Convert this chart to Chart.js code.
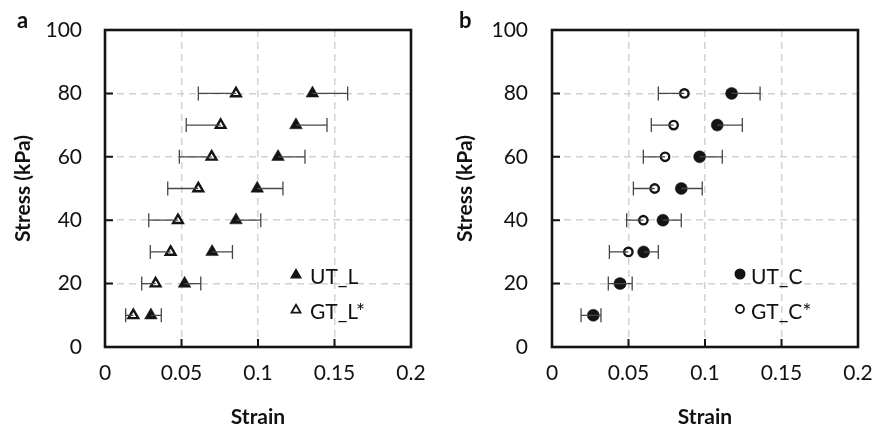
<!DOCTYPE html>
<html>
<head>
<meta charset="utf-8">
<script src="https://cdn.jsdelivr.net/npm/chart.js@4/dist/chart.umd.min.js"></script>
<style>
  body { margin: 0; background: #fff; }
  #wrap { position: relative; width: 873px; height: 430px; overflow: hidden; }
  canvas { position: absolute; top: 0; }
  #cA { left: 0; }
  #cB { left: 437px; }
  .tag { position: absolute; font: bold 22px Lato, sans-serif; color: #111; }
</style>
</head>
<body>
<div id="wrap">
  <canvas id="cA" width="436" height="430"></canvas>
  <canvas id="cB" width="436" height="430"></canvas>
  <div class="tag" style="left:17px; top:6px;">a</div>
  <div class="tag" style="left:459px; top:6px;">b</div>
</div>
<script>
// stress levels (kPa), shared by both panels
const stress = [10, 20, 30, 40, 50, 60, 70, 80];

// panel a: strain, error bars drawn to one side
const utL = [0.030, 0.052, 0.070, 0.0856, 0.0995, 0.1131, 0.1248, 0.1356];
const utLErr = [0.0068, 0.0106, 0.0133, 0.0162, 0.0168, 0.0176, 0.0203, 0.023];
const gtL = [0.0185, 0.0331, 0.0429, 0.0477, 0.061, 0.0697, 0.0756, 0.0856];
const gtLErr = [0.005, 0.0091, 0.0133, 0.0191, 0.020, 0.0211, 0.0225, 0.0246];

// panel b
const utC = [0.027, 0.0444, 0.0599, 0.0725, 0.0845, 0.0965, 0.108, 0.1174];
const utCErr = [0.005, 0.008, 0.0096, 0.012, 0.0137, 0.0148, 0.0164, 0.0186];
const gtC = [0.027, 0.045, 0.0499, 0.0597, 0.0671, 0.0739, 0.0795, 0.0865];
const gtCErr = [0.008, 0.0082, 0.0124, 0.0109, 0.0139, 0.0142, 0.0146, 0.017];

const xTickLabels = ["0", "0.05", "0.1", "0.15", "0.2"];
const yTickLabels = ["0", "20", "40", "60", "80", "100"];

const INK = "#141414";
const TXT = "#111";
const FONT = "Lato, sans-serif";

function pts(xs) {
  return stress.map((s, i) => ({ x: xs[i], y: s }));
}

// error bars, ticks inside, box and legend
const extras = {
  id: "extras",
  afterDatasetsDraw(chart) {
    const { ctx } = chart;
    const xs = chart.scales.x, ys = chart.scales.y;
    ctx.save();
    ctx.strokeStyle = "#474747";
    ctx.lineWidth = 1.3;
    chart.data.datasets.forEach(ds => {
      ds.data.forEach((p, i) => {
        const e = ds.err[i] * ds.side;
        const x0 = xs.getPixelForValue(p.x);
        const x1 = xs.getPixelForValue(p.x + e);
        const y = ys.getPixelForValue(p.y);
        ctx.beginPath();
        ctx.moveTo(x0, y); ctx.lineTo(x1, y);
        ctx.moveTo(x1, y - 7); ctx.lineTo(x1, y + 7);
        ctx.stroke();
      });
    });
    ctx.restore();
  },
  afterDraw(chart) {
    const { ctx, chartArea: a } = chart;
    const xs = chart.scales.x, ys = chart.scales.y;
    ctx.save();
    ctx.strokeStyle = INK;
    ctx.lineWidth = 2;
    ctx.beginPath();
    xs.ticks.forEach(t => {
      const x = xs.getPixelForValue(t.value);
      ctx.moveTo(x, a.bottom); ctx.lineTo(x, a.bottom - 8);
    });
    ys.ticks.forEach(t => {
      const y = ys.getPixelForValue(t.value);
      ctx.moveTo(a.left, y); ctx.lineTo(a.left + 8, y);
    });
    ctx.stroke();
    ctx.lineWidth = 2.6;
    ctx.strokeRect(a.left, a.top, a.right - a.left, a.bottom - a.top);

    // legend
    const lg = chart.options.legendPos;
    const lx = a.right - lg.dx;
    ctx.font = "21px " + FONT;
    ctx.textBaseline = "middle";
    chart.data.datasets.forEach((ds, i) => {
      const y = a.bottom - 72 + i * 35;
      ctx.beginPath();
      if (ds.pointStyle === "triangle") {
        const r = ds.filled ? 7 : 5.2;
        ctx.moveTo(lx, y - r);
        ctx.lineTo(lx + r * 0.866, y + r * 0.5);
        ctx.lineTo(lx - r * 0.866, y + r * 0.5);
        ctx.closePath();
      } else {
        ctx.arc(lx, y - 1, ds.filled ? 5.5 : 4, 0, Math.PI * 2);
      }
      if (ds.filled) {
        ctx.fillStyle = INK; ctx.fill();
      } else {
        ctx.fillStyle = "#fff"; ctx.fill();
        ctx.lineWidth = 1.8; ctx.strokeStyle = INK; ctx.stroke();
      }
      ctx.fillStyle = TXT;
      ctx.fillText(ds.label, lx + lg.gap, y + 2);
    });
    ctx.restore();
  }
};

function noPad(s) {
  s.paddingTop = 0; s.paddingBottom = 0; s.paddingLeft = 0; s.paddingRight = 0;
}

function makeChart(id, sets, yAxisW, yTitlePad, yTickPad, rightPad, legendPos) {
  const hideEdge = c => (c.index === 0 || c.index === c.scale.ticks.length - 1) ? "rgba(0,0,0,0)" : "#d2d2d2";
  return new Chart(document.getElementById(id), {
    type: "scatter",
    data: {
      datasets: sets.map(s => ({
        label: s.label,
        data: pts(s.xs),
        err: s.err,
        side: s.side,
        filled: s.filled,
        pointStyle: s.style,
        pointRadius: s.style === "triangle" ? (s.filled ? 7.3 : 5.6) : (s.filled ? 6 : 4.2),
        pointBackgroundColor: s.filled ? INK : "#fff",
        pointBorderColor: INK,
        pointBorderWidth: s.filled ? 0.5 : 2.4,
        showLine: false
      }))
    },
    options: {
      responsive: false,
      animation: false,
      legendPos: legendPos,
      layout: { padding: { top: 30, right: rightPad, left: 0, bottom: 0 } },
      plugins: { legend: { display: false }, tooltip: { enabled: false } },
      scales: {
        x: {
          min: 0, max: 0.2,
          afterFit: s => { s.height = 83; noPad(s); },
          ticks: {
            stepSize: 0.05,
            padding: 14,
            color: TXT,
            font: { family: FONT, size: 21 },
            callback: (v, i) => xTickLabels[i]
          },
          grid: { color: hideEdge, lineWidth: 1.5, drawTicks: false },
          border: { display: false, dash: [7, 5] },
          title: {
            display: true, text: "Strain", color: TXT,
            font: { family: FONT, size: 21, weight: "bold" },
            padding: { top: 0, bottom: 0 }
          }
        },
        y: {
          min: 0, max: 100,
          afterFit: s => { s.width = yAxisW; noPad(s); },
          ticks: {
            stepSize: 20,
            padding: yTickPad,
            color: TXT,
            font: { family: FONT, size: 21 },
            callback: (v, i) => yTickLabels[i]
          },
          grid: { color: hideEdge, lineWidth: 1.5, drawTicks: false },
          border: { display: false, dash: [7, 5] },
          title: {
            display: true, text: "Stress (kPa)", color: TXT,
            font: { family: FONT, size: 21, weight: "bold" },
            padding: { top: yTitlePad, bottom: 0 }
          }
        }
      }
    },
    plugins: [extras]
  });
}

makeChart("cA", [
  { label: "UT_L", xs: utL, err: utLErr, side: 1, filled: true, style: "triangle" },
  { label: "GT_L*", xs: gtL, err: gtLErr, side: -1, filled: false, style: "triangle" }
], 105, 11, 23, 25, { dx: 115, gap: 14 });

makeChart("cB", [
  { label: "UT_C", xs: utC, err: utCErr, side: 1, filled: true, style: "circle" },
  { label: "GT_C*", xs: gtC, err: gtCErr, side: -1, filled: false, style: "circle" }
], 115, 16, 24, 15, { dx: 118, gap: 11 });
</script>
</body>
</html>
